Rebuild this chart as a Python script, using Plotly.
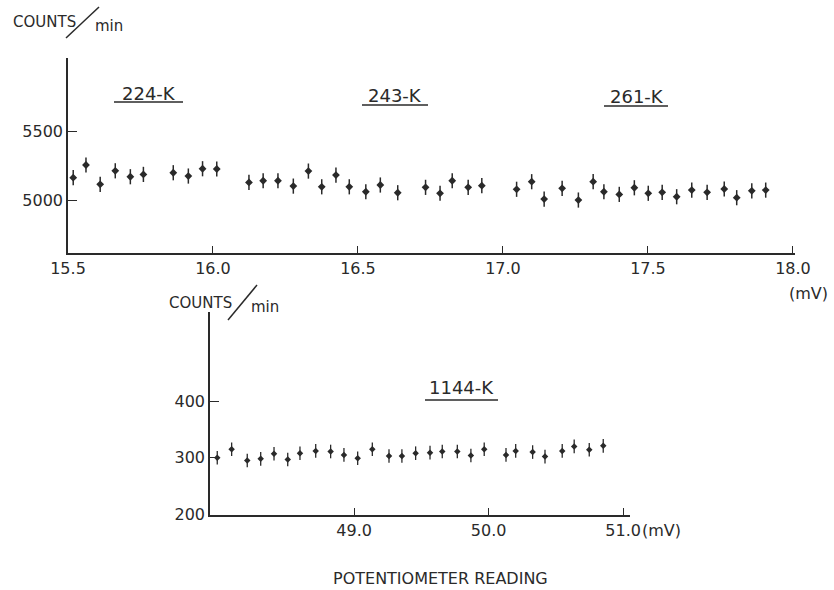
import plotly.graph_objects as go

W, H = 834, 590

# ---------------- data ----------------
top_mv = [15.518, 15.562, 15.611, 15.663, 15.715, 15.760, 15.863, 15.915, 15.964, 16.013,
          16.124, 16.173, 16.224, 16.277, 16.329, 16.375, 16.424, 16.470, 16.527, 16.577, 16.637,
          16.733, 16.783, 16.825, 16.880, 16.927,
          17.047, 17.099, 17.142, 17.204, 17.260, 17.311, 17.348, 17.401, 17.453, 17.501,
          17.549, 17.599, 17.651, 17.704, 17.763, 17.806, 17.858, 17.906]
top_counts = [5162, 5254, 5114, 5212, 5169, 5186, 5198, 5174, 5227, 5225,
              5128, 5140, 5140, 5101, 5210, 5096, 5181, 5096, 5060, 5109, 5053,
              5092, 5049, 5140, 5092, 5104,
              5078, 5133, 5007, 5085, 5000, 5133, 5060, 5041, 5089, 5049,
              5056, 5024, 5072, 5056, 5080, 5017, 5067, 5072]
top_err = 55

bot_mv = [47.982, 48.089, 48.205, 48.305, 48.404, 48.506, 48.597, 48.714, 48.825, 48.924,
          49.026, 49.135, 49.259, 49.355, 49.457, 49.564, 49.655, 49.767, 49.868, 49.967,
          50.129, 50.201, 50.327, 50.419, 50.547, 50.636, 50.748, 50.852]
bot_counts = [300, 315, 295, 298, 307, 297, 308, 312, 311, 305,
              299, 315, 303, 303, 308, 309, 311, 311, 304, 315,
              305, 312, 310, 302, 312, 320, 314, 321]
bot_err = 12

top_xticks = [15.5, 16.0, 16.5, 17.0, 17.5, 18.0]
top_xlabels = ["15.5", "16.0", "16.5", "17.0", "17.5", "18.0"]
top_yticks = [5000, 5500]
bot_xticks = [49.0, 50.0, 51.0]
bot_xlabels = ["49.0", "50.0", "51.0"]
bot_yticks = [200, 300, 400]
labels_top = ["224-K", "243-K", "261-K"]
label_bot = "1144-K"

# ---------------- helpers ----------------
def px(x):
    return x / W

def py(y):
    return 1 - y / H

INK = "#2a2a2a"
FONT = "DejaVu Sans"

fig = go.Figure()

fig.add_trace(go.Scatter(
    x=top_mv, y=top_counts, mode="markers", xaxis="x", yaxis="y",
    marker=dict(symbol="diamond", size=6, color=INK),
    error_y=dict(type="constant", value=top_err, width=0, thickness=1.5, color=INK),
    showlegend=False, hoverinfo="skip", cliponaxis=False))

fig.add_trace(go.Scatter(
    x=bot_mv, y=bot_counts, mode="markers", xaxis="x2", yaxis="y2",
    marker=dict(symbol="diamond", size=5, color=INK),
    error_y=dict(type="constant", value=bot_err, width=0, thickness=1.3, color=INK),
    showlegend=False, hoverinfo="skip", cliponaxis=False))

axis_common = dict(showline=True, linecolor=INK, linewidth=1.6, showgrid=False,
                   zeroline=False, ticks="inside", tickcolor=INK, tickwidth=1.4,
                   automargin=False,
                   tickfont=dict(family=FONT, size=16, color=INK))

fig.update_layout(
    width=W, height=H, autosize=False,
    margin=dict(l=0, r=0, t=0, b=0, pad=0, autoexpand=False),
    paper_bgcolor="white", plot_bgcolor="white",
    xaxis=dict(domain=[px(68), px(795)], range=[15.5, 18.007], anchor="y",
               tickvals=top_xticks, ticktext=top_xlabels, ticklen=7, **axis_common),
    yaxis=dict(domain=[py(253), py(58)], range=[4616, 6030], anchor="x",
               tickvals=top_yticks, ticklen=9, **axis_common),
    xaxis2=dict(domain=[px(210), px(630)], range=[47.928, 51.051], anchor="y2",
                tickvals=bot_xticks, ticktext=bot_xlabels, ticklen=7, **axis_common),
    yaxis2=dict(domain=[py(515), py(312)], range=[199, 557], anchor="x2",
                tickvals=bot_yticks, ticklen=9, **axis_common),
)

def text(x, y, s, size=13):
    fig.add_annotation(x=px(x), y=py(y), xref="paper", yref="paper", text=s,
                       showarrow=False, xanchor="center", yanchor="middle",
                       font=dict(family=FONT, size=size, color=INK))

def line(x0, y0, x1, y1, w=1.5):
    fig.add_shape(type="line", xref="paper", yref="paper",
                  x0=px(x0), y0=py(y0), x1=px(x1), y1=py(y1),
                  line=dict(color=INK, width=w))

# axis titles
text(44, 22, "COUNTS", 15)
text(109, 26, "min", 15)
line(66, 38, 99, 7)
text(200, 303, "COUNTS", 15)
text(265, 307, "min", 15)
line(228, 320, 257, 285)

# sample labels with underlines
for s, (cx, cy, ux0, ux1, uy) in zip(labels_top, [(149, 93, 114, 183, 102),
                                                  (395, 95, 362, 428, 105),
                                                  (637, 96, 604, 668, 106)]):
    text(cx, cy, s, 18)
    line(ux0, uy, ux1, uy, 1.6)
text(461, 387, label_bot, 18)
line(425, 400, 498, 400, 1.6)

# units
text(808, 293, "(mV)", 16)
text(661, 530, "(mV)", 16)
text(440, 578, "POTENTIOMETER READING", 16)

fig.write_html("out.html")
